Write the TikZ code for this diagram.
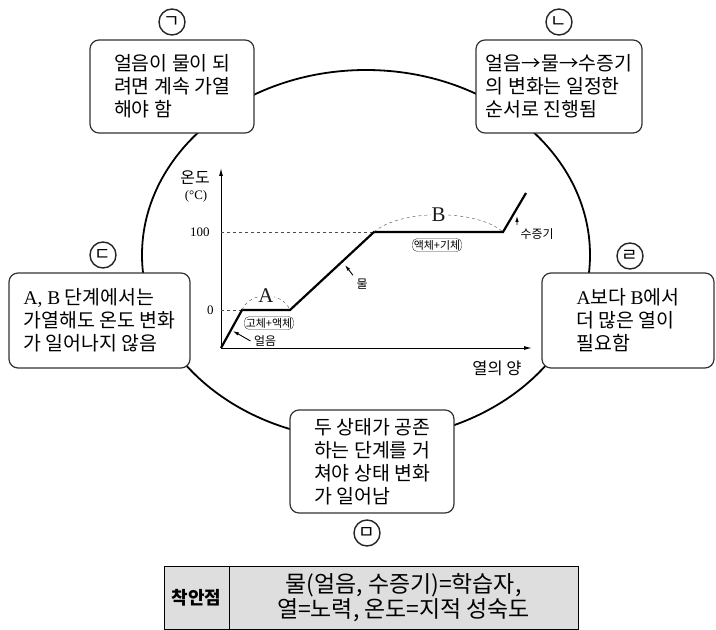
\documentclass[tikz,border=0pt]{standalone}
\usepackage{fontspec}
\setmainfont{Liberation Serif}
\newfontfamily\kr{Noto Sans CJK KR}
\usetikzlibrary{arrows.meta}

\tikzset{
  idea/.style={draw=black!80, line width=1.2bp, rounded corners=9bp, fill=white,
    align=left, font=\kr\fontsize{19.5}{23}\selectfont},
  tag/.style={draw=black!85, circle, line width=1.4bp, inner sep=0pt, minimum size=26bp,
    font=\kr\fontsize{18}{18}\selectfont},
  phase/.style={draw=black!80, rounded corners=5bp, inner sep=1.5bp,
    font=\kr\fontsize{11}{11}\selectfont},
  small/.style={font=\kr\fontsize{12}{12}\selectfont},
  axis/.style={line width=1bp, -{Latex[length=8bp,width=4bp]}},
  pointer/.style={line width=0.9bp, -{Latex[length=6bp,width=3.5bp]}}
}

\begin{document}
\begin{tikzpicture}[x=1bp, y=-1bp]
\useasboundingbox (0,0) rectangle (716,630);

% cycle
\draw[line width=1.8bp] (366,255) ellipse [x radius=224bp, y radius=185bp];

% graph
\coordinate (O) at (221,348);
\coordinate (ytop) at (221,168);
\coordinate (xend) at (532,348);
\coordinate (p1) at (242,310);
\coordinate (p2) at (290,310);
\coordinate (p3) at (374,232);
\coordinate (p4) at (503,232);
\coordinate (p5) at (526,193);
\draw[axis] (O) -- (ytop);
\draw[axis] (O) -- (xend);
\draw[dashed, black!70] (O |- p1) -- (p1);
\draw[dashed, black!70] (O |- p3) -- (p3);
\draw[line width=2.2bp] (O) -- (p1) -- (p2) -- (p3) -- (p4) -- (p5);
\draw[dashed, black!70] (p1) .. controls (250,291) and (282,291) .. (p2)
  node[pos=0.5, fill=white, text=black!90, inner sep=0.5bp, font=\fontsize{21}{21}\selectfont] (stageA) {A};
\draw[dashed, black!70] (p3) .. controls (400,209) and (477,209) .. (p4)
  node[pos=0.5, fill=white, text=black!90, inner sep=0.5bp, font=\fontsize{21}{21}\selectfont] (stageB) {B};

\node[anchor=east, font=\fontsize{13}{13}\selectfont] (zero) at (217,310) {0};
\node[anchor=east, font=\fontsize{13}{13}\selectfont] (hundred) at (213,232) {100};
\node[font=\kr\fontsize{16}{16}\selectfont] (temp) at (195,178) {온도};
\node[font=\fontsize{13}{13}\selectfont] (unit) at (196,196) {(°C)};
\node[font=\kr\fontsize{16.5}{16.5}\selectfont] (heat) at (497,368) {열의 양};

\node[phase] (solliq) at (269,323) {고체+액체};
\node[phase] (liqgas) at (437,245) {액체+기체};

\node[small] (ice) at (265,341) {얼음};
\node[small] (water) at (362,284) {물};
\node[small] (steam) at (537,234) {수증기};
\coordinate (iceat) at (233,331);
\coordinate (waterat) at (345,265);
\coordinate (steamat) at (517,216);
\draw[pointer] (ice.west) -- (iceat);
\draw[pointer] (water.north west) -- (waterat);
\draw[pointer] (steam.north west) -- (steamat);

% boxes round the cycle
\node[idea, minimum width=164bp, minimum height=93bp] (boxa) at (172,86.5)
  {얼음이 물이 되\\려면 계속 가열\\해야 함};
\node[idea, minimum width=166bp, minimum height=93bp] (boxb) at (559,86.5)
  {얼음→물→수증기\\의 변화는 일정한\\순서로 진행됨};
\node[idea, minimum width=181bp, minimum height=95bp] (boxc) at (99.5,320.5)
  {{\rmfamily A, B} 단계에서는\\가열해도 온도 변화\\가 일어나지 않음};
\node[idea, minimum width=172bp, minimum height=95bp] (boxd) at (628,320.5)
  {{\rmfamily A}보다 {\rmfamily B}에서\\더 많은 열이\\필요함};
\node[idea, minimum width=164bp, minimum height=103bp] (boxe) at (372,461.5)
  {두 상태가 공존\\하는 단계를 거\\쳐야 상태 변화\\가 일어남};

\node[tag] (taga) at (172,22) {ㄱ};
\node[tag] (tagb) at (559,22) {ㄴ};
\node[tag] (tagc) at (103,255) {ㄷ};
\node[tag] (tagd) at (630,256) {ㄹ};
\node[tag] (tage) at (367,533) {ㅁ};

% point of view
\draw[line width=1bp, fill=black!13] (164,566) rectangle (578,629);
\draw[line width=1bp] (229,566) -- (229,629);
\node[font=\kr\bfseries\fontsize{18}{18}\selectfont] (pointkey) at (196.5,598) {착안점};
\node[align=center, font=\kr\fontsize{23}{25}\selectfont] (pointval) at (403.5,598)
  {물(얼음, 수증기)=학습자,\\열=노력, 온도=지적 성숙도};
\end{tikzpicture}
\end{document}
